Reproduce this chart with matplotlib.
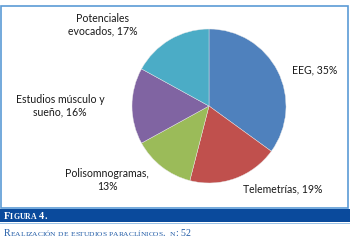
import numpy as np
import matplotlib.pyplot as plt
from matplotlib.patches import Rectangle

# datos del grafico
categorias = ['EEG', 'Telemetrías', 'Polisomnogramas', 'Estudios músculo y sueño', 'Potenciales evocados']
etiquetas = ['EEG, 35%', 'Telemetrías, 19%', 'Polisomnogramas,\n13%',
             'Estudios músculo y\nsueño, 16%', 'Potenciales\nevocados, 17%']
porcentajes = [35, 19, 13, 16, 17]
colores = ['#4F81BD', '#C0504D', '#9BBB59', '#8064A2', '#4BACC6']

W, H = 350, 243
fig = plt.figure(figsize=(W / 100, H / 100), dpi=100)
fig.patch.set_facecolor('white')

def px(x, y):
    return x / W, 1 - y / H

# marco del grafico
fig.patches.append(Rectangle(px(1, 208), 347 / W, 202 / H, transform=fig.transFigure,
                             facecolor='none', edgecolor='#5B9BD5', lw=1.2, zorder=-1))

# pastel
cx, cy, r = 209, 106, 77
ax = fig.add_axes([(cx - r) / W, 1 - (cy + r) / H, 2 * r / W, 2 * r / H])
ax.pie(porcentajes, colors=colores, startangle=90, counterclock=False,
       wedgeprops=dict(linewidth=0.3, edgecolor='#e8e8e8'))
ax.set_xlim(-1, 1)
ax.set_ylim(-1, 1)
ax.set_aspect('equal')
ax.axis('off')

pos_etiquetas = [(315, 70, 'center'), (283, 189, 'center'), (107, 180, 'center'),
                 (60, 106, 'center'), (103, 25, 'center')]
for txt, (x, y, ha) in zip(etiquetas, pos_etiquetas):
    fig.text(*px(x, y), txt, ha=ha, va='center', fontsize=7.6, family='Lato',
             color='#1a1a1a', linespacing=1.15)

# banda de la figura
fig.patches.append(Rectangle(px(0, 222), 1, 13 / H, transform=fig.transFigure,
                             facecolor='#0A4A9C', edgecolor='none'))
fig.patches.append(Rectangle(px(0, 224), 1, 1 / H, transform=fig.transFigure,
                             facecolor='#9DC3E6', edgecolor='none'))

fig.canvas.draw()
renderer = fig.canvas.get_renderer()

def small_caps(x, y, texto, size, color, weight='normal'):
    # versalitas: minusculas en mayuscula pequena
    for ch in texto:
        if ch.islower():
            t = fig.text(x / W, 1 - y / H, ch.upper(), fontsize=size * 0.75, color=color,
                         family='Liberation Serif', weight=weight, va='baseline')
        else:
            t = fig.text(x / W, 1 - y / H, ch, fontsize=size, color=color,
                         family='Liberation Serif', weight=weight, va='baseline')
        bb = t.get_window_extent(renderer)
        x += bb.width if ch != ' ' else size * 0.35

small_caps(4, 219, 'Figura 4.', 7.5, 'white', weight='bold')
small_caps(4, 236, 'Realización de estudios paraclínicos.  n: 52', 7.2, '#1F5AA6')

fig.savefig('out.png', dpi=100)
